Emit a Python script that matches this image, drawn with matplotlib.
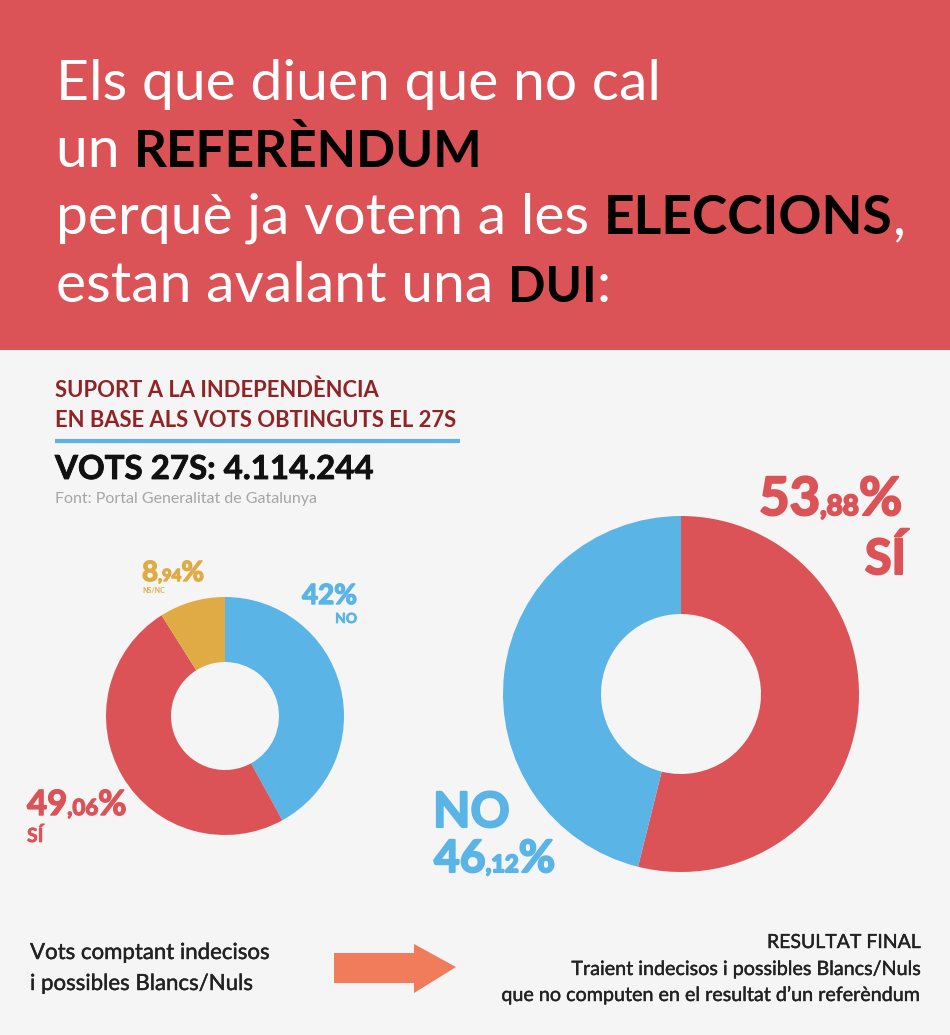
import matplotlib
matplotlib.use('Agg')
import matplotlib.pyplot as plt
import matplotlib.patheffects as pe
from matplotlib.patches import Rectangle, Polygon

W, H = 950, 1035

# data
left_labels = ['NO', 'SÍ', 'NS/NC']
left_values = [42, 49.06, 8.94]
right_labels = ['SÍ', 'NO']
right_values = [53.88, 46.12]

RED = '#dc5357'
BLUE = '#5ab4e6'
GOLD = '#e0ab45'
BG = '#f5f5f5'
DARKRED = '#8f2426'
ARROW = '#f07c5c'
TXT = '#222222'

plt.rcParams['font.family'] = ['Lato', 'DejaVu Sans']

fig = plt.figure(figsize=(W / 100, H / 100), dpi=100, facecolor=BG)
ax = fig.add_axes([0, 0, 1, 1])
ax.set_xlim(0, W)
ax.set_ylim(H, 0)
ax.axis('off')

ax.add_patch(Rectangle((0, 0), W, 350, color=RED, lw=0))


# thickens a text, the labels in the picture are heavier than Lato Bold
def thick(color, w=1.0):
    return [pe.withStroke(linewidth=w, foreground=color)]


# several runs of text on one baseline, each placed after the one before
def runs(x, y, parts, stroke=0):
    for txt, color, weight, sz in parts:
        t = ax.text(x, y, txt, color=color, fontweight=weight, fontsize=sz, va='baseline', ha='left')
        bb = t.get_window_extent(fig.canvas.get_renderer())
        x += bb.width
        if stroke:
            t.set_path_effects(thick(color, stroke))


runs(56, 100, [('Els que diuen que no cal', 'white', 'normal', 41)])
runs(56, 167, [('un ', 'white', 'normal', 41), ('REFERÈNDUM', 'black', 'bold', 37)], 0)
runs(56, 234, [('perquè ja votem a les ', 'white', 'normal', 41), ('ELECCIONS', 'black', 'bold', 38.4), (',', 'white', 'normal', 41)])
runs(56, 302, [('estan avalant una ', 'white', 'normal', 41), ('DUI', 'black', 'bold', 35.5), (':', 'white', 'normal', 41)])

ax.text(55, 397, 'SUPORT A LA INDEPENDÈNCIA', color=DARKRED, fontweight='bold', fontsize=15.8, va='baseline')
ax.text(55, 427, 'EN BASE ALS VOTS OBTINGUTS EL 27S', color=DARKRED, fontweight='bold', fontsize=15.8, va='baseline')
ax.plot([55, 460], [441, 441], color=BLUE, lw=3, solid_capstyle='butt')
ax.text(55, 479, 'VOTS 27S: 4.114.244', color='#111111', fontweight='bold', fontsize=23.8, va='baseline',
        path_effects=thick('#111111', 0.6))
ax.text(55, 503, 'Font: Portal Generalitat de Gatalunya', color='#a5a5a5', fontsize=11.5, va='baseline')


def donut(cx, cy, r, inner, values, colors):
    a = fig.add_axes([(cx - r) / W, 1 - (cy + r) / H, 2 * r / W, 2 * r / H])
    a.pie(values, colors=colors, startangle=90, counterclock=False, radius=1,
          wedgeprops={'width': 1 - inner / r, 'linewidth': 0})
    a.set_xlim(-1, 1)
    a.set_ylim(-1, 1)
    a.patch.set_alpha(0)


donut(225, 716, 119, 54, left_values, [BLUE, RED, GOLD])
donut(681, 694, 178, 80, right_values, [RED, BLUE])

# left donut labels
runs(142, 581, [('8', GOLD, 'bold', 20), (',94', GOLD, 'bold', 12), ('%', GOLD, 'bold', 20)], 1)
ax.text(142, 593, left_labels[2], color=GOLD, fontweight='bold', fontsize=5, va='baseline')
ax.text(302, 604, '42%', color=BLUE, fontweight='bold', fontsize=20, va='baseline', path_effects=thick(BLUE))
ax.text(357, 623, left_labels[0], color=BLUE, fontweight='bold', fontsize=10, va='baseline', ha='right',
        path_effects=thick(BLUE, 0.5))
runs(27, 815, [('49', RED, 'bold', 25), (',06', RED, 'bold', 16), ('%', RED, 'bold', 25)], 1)
ax.text(27, 842, left_labels[1], color=RED, fontweight='bold', fontsize=14, va='baseline', path_effects=thick(RED, 0.5))

# right donut labels
runs(759, 515, [('53', RED, 'bold', 38), (',88', RED, 'bold', 20), ('%', RED, 'bold', 38)], 1.5)
ax.text(906, 574, right_labels[0], color=RED, fontweight='bold', fontsize=35, va='baseline', ha='right',
        path_effects=thick(RED, 1.5))
ax.text(433, 827, right_labels[1], color=BLUE, fontweight='bold', fontsize=35, va='baseline',
        path_effects=thick(BLUE, 1.5))
runs(434, 872, [('46', BLUE, 'bold', 32), (',12', BLUE, 'bold', 17), ('%', BLUE, 'bold', 32)], 1.5)

# captions and arrow
cap = thick(TXT, 0.3)
ax.text(30, 959, 'Vots comptant indecisos', color=TXT, fontsize=16, va='baseline', path_effects=cap)
ax.text(30, 990, 'i possibles Blancs/Nuls', color=TXT, fontsize=16, va='baseline', path_effects=cap)
ax.add_patch(Polygon([(334, 953), (414, 953), (414, 944), (456, 967), (414, 993), (414, 983), (334, 983)],
                     closed=True, color=ARROW, lw=0))
ax.text(921, 948, 'RESULTAT FINAL', color=TXT, fontsize=14, va='baseline', ha='right', path_effects=cap)
ax.text(921, 975, 'Traient indecisos i possibles Blancs/Nuls', color=TXT, fontsize=14.2, va='baseline', ha='right', path_effects=cap)
ax.text(921, 1001, 'que no computen en el resultat d’un referèndum', color=TXT, fontsize=14.2, va='baseline', ha='right', path_effects=cap)

fig.savefig('out.png', dpi=100, facecolor=BG)
